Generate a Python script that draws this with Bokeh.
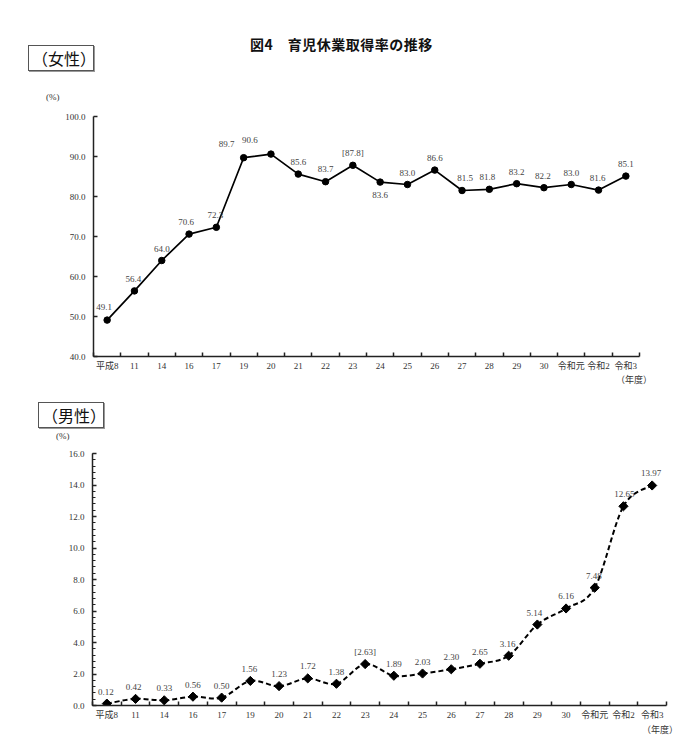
import math
from bokeh.plotting import figure
from bokeh.models import Range1d, FixedTicker, SingleIntervalTicker, NumeralTickFormatter, ColumnDataSource, Div
from bokeh.layouts import column
from bokeh.embed import file_html
from bokeh.resources import INLINE
from bokeh.core.properties import value

# ---------------- data ----------------
years = ["平成8", "11", "14", "16", "17", "19", "20", "21", "22", "23", "24",
         "25", "26", "27", "28", "29", "30", "令和元", "令和2", "令和3"]
female_rate = [49.1, 56.4, 64.0, 70.6, 72.3, 89.7, 90.6, 85.6, 83.7, 87.8,
               83.6, 83.0, 86.6, 81.5, 81.8, 83.2, 82.2, 83.0, 81.6, 85.1]
female_text = ["49.1", "56.4", "64.0", "70.6", "72.3", "89.7", "90.6", "85.6", "83.7", "[87.8]",
               "83.6", "83.0", "86.6", "81.5", "81.8", "83.2", "82.2", "83.0", "81.6", "85.1"]
male_rate = [0.12, 0.42, 0.33, 0.56, 0.50, 1.56, 1.23, 1.72, 1.38, 2.63,
             1.89, 2.03, 2.30, 2.65, 3.16, 5.14, 6.16, 7.48, 12.65, 13.97]
male_text = ["0.12", "0.42", "0.33", "0.56", "0.50", "1.56", "1.23", "1.72", "1.38", "[2.63]",
             "1.89", "2.03", "2.30", "2.65", "3.16", "5.14", "6.16", "7.48", "12.65", "13.97"]
female_y_ticks = [40, 50, 60, 70, 80, 90, 100]
title_text = "図4　育児休業取得率の推移"
female_box = "（女性）"
male_box = "（男性）"
unit_text = "(%)"
year_unit = "（年度）"

# label placement (style, pixels)
female_dx = [-3, -1, 0, -3, -1, -17, -21, 0, 0, 0, 0, 0, 0, 3, -2, 0, -1, 0, -1, 0]
female_dy = [-13, -12, -12, -12, -12, -14, -14, -12, -13, -12, 13, -12, -12, -13, -12, -12, -12, -12, -12, -12]
male_dx = [-1, -2, 0, 0, 0, -1, 0, 0, 0, 0, 0, 0, 0, 0, -1, -3, 0, -1, 1, -1]
male_dy = [-12] * 20

NUM_FONT = "Liberation Serif, Noto Sans CJK JP"
JP_FONT = "Noto Sans CJK JP"
W = 679
n = len(years)
xc = [i + 0.5 for i in range(n)]


def style_fig(p):
    p.outline_line_color = None
    p.xgrid.visible = False
    p.ygrid.visible = False
    p.background_fill_color = "white"
    p.border_fill_color = "white"
    xa = p.xaxis[0]
    xa.ticker = FixedTicker(ticks=xc, minor_ticks=list(range(n + 1)))
    xa.major_label_overrides = {x: s for x, s in zip(xc, years)}
    xa.major_tick_in = 0
    xa.major_tick_out = 0
    xa.minor_tick_in = 4
    xa.minor_tick_out = 0
    xa.minor_tick_line_width = 1.5
    xa.axis_line_width = 1.5
    xa.axis_line_color = "#222"
    xa.minor_tick_line_color = "#222"
    xa.major_label_text_font = NUM_FONT
    xa.major_label_text_font_size = "9px"
    xa.major_label_text_color = "#333"
    xa.major_label_standoff = 4
    ya = p.yaxis[0]
    ya.axis_line_width = 1.5
    ya.axis_line_color = "#222"
    ya.major_tick_in = 4
    ya.major_tick_out = 0
    ya.major_tick_line_width = 1.5
    ya.major_tick_line_color = "#222"
    ya.formatter = NumeralTickFormatter(format="0.0")
    ya.major_label_text_font = NUM_FONT
    ya.major_label_text_font_size = "9px"
    ya.major_label_text_color = "#333"
    ya.major_label_standoff = 8


def span(text, left, top, size, extra=""):
    return (f'<span style="position:absolute;left:{left}px;top:{top}px;font-size:{size}px;'
            f'line-height:1;white-space:nowrap;{extra}">{text}</span>')


def small(text, cx, cy):
    return span(text, cx - 8, cy - 5, 9, "font-family:\'Liberation Serif\',\'Noto Sans CJK JP\';color:#333;")


def boxed(text, left, top):
    return span(text, left, top, 16,
                "font-family:'Noto Sans CJK JP';color:#111;border:1px solid #555;"
                "box-shadow:1px 1px 0 #999;padding:4px 3px 4px 3px;width:66px;text-align:center;")


def panel(height, inner):
    return Div(text=f'<div style="position:relative;width:{W}px;height:{height}px;">{inner}</div>',
               width=W, height=height, margin=0)


# ---------------- header ----------------
head = panel(108,
             span(title_text, 250, 37, 14,
                  "font-family:'Noto Sans CJK JP';font-weight:bold;color:#111;letter-spacing:0.5px;")
             + boxed(female_box, 28, 45)
             + small(unit_text, 54, 98))

# ---------------- female ----------------
p1 = figure(width=W, height=268, output_backend="svg", toolbar_location=None,
            x_range=Range1d(0, n), y_range=Range1d(40, 100), frame_align=False,
            min_border_left=93, min_border_right=40, min_border_top=8, min_border_bottom=20)
style_fig(p1)
p1.yaxis[0].ticker = FixedTicker(ticks=female_y_ticks)

fsrc = ColumnDataSource(dict(x=xc, y=female_rate, t=female_text, dx=female_dx, dy=female_dy))
p1.line("x", "y", source=fsrc, line_color="black", line_width=1.7)
p1.scatter("x", "y", source=fsrc, marker="circle", size=6.5, fill_color="black", line_color="black")
p1.text("x", "y", text="t", source=fsrc, x_offset="dx", y_offset="dy",
        text_align="center", text_baseline="middle",
        text_font=value(NUM_FONT), text_font_size="9px", text_color="#444")

# ---------------- middle ----------------
mid = panel(69,
            small(year_unit, 624, 5)
            + boxed(male_box, 38, 26)
            + small(unit_text, 64, 61))

# ---------------- male ----------------
p2 = figure(width=W, height=280, output_backend="svg", toolbar_location=None,
            x_range=Range1d(0, n), y_range=Range1d(0, 16), frame_align=False,
            min_border_left=92, min_border_right=13, min_border_top=8, min_border_bottom=20)
style_fig(p2)
p2.yaxis[0].ticker = SingleIntervalTicker(interval=2, num_minor_ticks=5)
p2.yaxis[0].minor_tick_in = 3
p2.yaxis[0].minor_tick_out = 0
p2.yaxis[0].minor_tick_line_width = 1.2
p2.yaxis[0].minor_tick_line_color = "#222"

# smooth (Catmull-Rom) curve through the data points, drawn with Bezier segments
x0, y0, x1, y1, cx0, cy0, cx1, cy1 = [], [], [], [], [], [], [], []
for i in range(n - 1):
    pa = (xc[max(i - 1, 0)], male_rate[max(i - 1, 0)])
    pb = (xc[i], male_rate[i])
    pc = (xc[i + 1], male_rate[i + 1])
    pd = (xc[min(i + 2, n - 1)], male_rate[min(i + 2, n - 1)])
    x0.append(pb[0]); y0.append(pb[1]); x1.append(pc[0]); y1.append(pc[1])
    cx0.append(pb[0] + (pc[0] - pa[0]) / 6); cy0.append(pb[1] + (pc[1] - pa[1]) / 6)
    cx1.append(pc[0] - (pd[0] - pb[0]) / 6); cy1.append(pc[1] - (pd[1] - pb[1]) / 6)
p2.bezier(x0=x0, y0=y0, x1=x1, y1=y1, cx0=cx0, cy0=cy0, cx1=cx1, cy1=cy1,
          line_color="black", line_width=2, line_dash="5 3")

msrc = ColumnDataSource(dict(x=xc, y=male_rate, t=male_text, dx=male_dx, dy=male_dy))
p2.scatter("x", "y", source=msrc, marker="square", angle=math.pi / 4, size=6.5,
           fill_color="black", line_color="black")
p2.text("x", "y", text="t", source=msrc, x_offset="dx", y_offset="dy",
        text_align="center", text_baseline="middle",
        text_font=value(NUM_FONT), text_font_size="9px", text_color="#444")

# ---------------- footer ----------------
foot = panel(14, small(year_unit, 650, 6))

layout = column(head, p1, mid, p2, foot, spacing=0)
open("out.html", "w").write(file_html(layout, INLINE))
